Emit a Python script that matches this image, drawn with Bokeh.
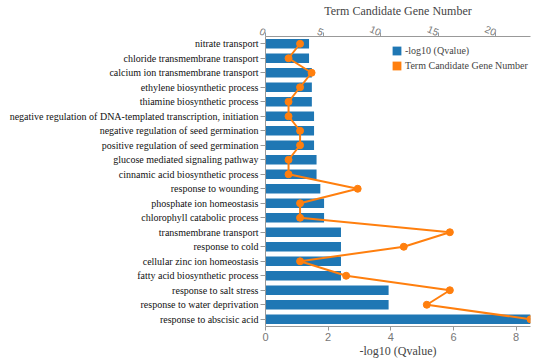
from bokeh.plotting import figure
from bokeh.models import Range1d, FactorRange, LinearAxis, FixedTicker, Legend, LegendItem
from bokeh.embed import file_html
from bokeh.resources import INLINE

categories = [
    "nitrate transport",
    "chloride transmembrane transport",
    "calcium ion transmembrane transport",
    "ethylene biosynthetic process",
    "thiamine biosynthetic process",
    "negative regulation of DNA-templated transcription, initiation",
    "negative regulation of seed germination",
    "positive regulation of seed germination",
    "glucose mediated signaling pathway",
    "cinnamic acid biosynthetic process",
    "response to wounding",
    "phosphate ion homeostasis",
    "chlorophyll catabolic process",
    "transmembrane transport",
    "response to cold",
    "cellular zinc ion homeostasis",
    "fatty acid biosynthetic process",
    "response to salt stress",
    "response to water deprivation",
    "response to abscisic acid",
]
neglog_q = [1.39, 1.39, 1.48, 1.48, 1.48, 1.55, 1.55, 1.55, 1.63, 1.63,
            1.75, 1.87, 1.87, 2.41, 2.41, 2.41, 2.41, 3.93, 3.93, 8.46]
gene_number = [3, 2, 4, 3, 2, 2, 3, 3, 2, 2, 8, 3, 3, 16, 12, 3, 7, 16, 14, 23]
bottom_ticks = [0, 2, 4, 6, 8]
top_ticks = [0, 5, 10, 15, 20]

BLUE = "#1f77b4"
ORANGE = "#ff7f0e"
SERIF = "Liberation Serif"
SANS = "Liberation Sans"

p = figure(frame_width=265, frame_height=290, output_backend="svg", toolbar_location=None,
           y_range=FactorRange(*list(reversed(categories)), range_padding=0),
           x_range=Range1d(0, max(neglog_q)))
p.extra_x_ranges = {"top": Range1d(0, max(gene_number))}
p.min_border = 0
p.min_border_left = 265
p.min_border_right = 4
p.min_border_top = 0
p.min_border_bottom = 0
p.outline_line_color = None
p.xgrid.grid_line_color = None
p.ygrid.grid_line_color = None

bars = p.hbar(y=categories, right=neglog_q, left=0, height=0.66,
              fill_color=BLUE, line_color=None)
legend_swatch = p.hbar(y=categories[:1], right=[0], left=0, height=0.66,
                       fill_color=ORANGE, line_color=None)
p.line(x=gene_number, y=categories, x_range_name="top", line_color=ORANGE, line_width=2)
p.scatter(x=gene_number, y=categories, x_range_name="top", size=7,
          fill_color=ORANGE, line_color=ORANGE)

# bottom axis
xa = p.xaxis[0]
xa.ticker = FixedTicker(ticks=bottom_ticks)
xa.axis_label = "-log10 (Qvalue)"
xa.axis_label_text_font = SERIF
xa.axis_label_text_font_style = "normal"
xa.axis_label_text_font_size = "12px"
xa.axis_label_standoff = 0
xa.major_label_text_font = SANS
xa.major_label_text_font_size = "11px"
xa.major_label_text_color = "#777777"
xa.major_label_standoff = 2
xa.axis_line_color = "#999999"
xa.major_tick_line_color = "#999999"
xa.major_tick_out = 4
xa.major_tick_in = 0
xa.minor_tick_line_color = None

# left axis
ya = p.yaxis[0]
ya.major_label_text_font = SERIF
ya.major_label_text_font_size = "10px"
ya.major_label_text_color = "#111111"
ya.major_label_standoff = 2
ya.axis_line_color = "#999999"
ya.major_tick_line_color = "#999999"
ya.major_tick_out = 5
ya.major_tick_in = 0

# top axis
ta = LinearAxis(x_range_name="top", ticker=FixedTicker(ticks=top_ticks))
ta.axis_label = "Term Candidate Gene Number"
ta.axis_label_text_font = SERIF
ta.axis_label_text_font_style = "normal"
ta.axis_label_text_font_size = "12px"
ta.axis_label_standoff = 0
ta.major_label_text_font = SANS
ta.major_label_text_font_size = "10px"
ta.major_label_text_color = "#777777"
ta.major_label_orientation = -0.4
ta.major_label_standoff = 0
ta.axis_line_color = "#999999"
ta.major_tick_line_color = "#999999"
ta.major_tick_out = 4
ta.major_tick_in = 0
ta.minor_tick_line_color = None
p.add_layout(ta, "above")

legend = Legend(items=[LegendItem(label="-log10 (Qvalue)", renderers=[bars]),
                       LegendItem(label="Term Candidate Gene Number", renderers=[legend_swatch])],
                location=(126, 255), padding=0, margin=0, spacing=4,
                glyph_width=11, glyph_height=11, label_height=11, label_standoff=3,
                label_text_font=SERIF, label_text_font_size="10px",
                border_line_color=None, background_fill_alpha=0)
p.add_layout(legend)

open("out.html", "w").write(file_html(p, INLINE))
